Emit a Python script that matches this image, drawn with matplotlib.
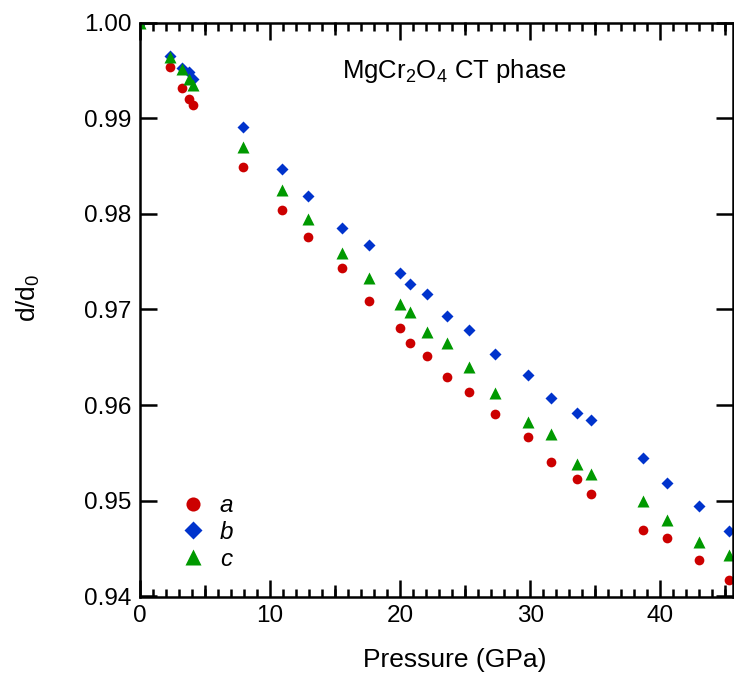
import numpy as np
import matplotlib
matplotlib.use("Agg")
import matplotlib.pyplot as plt
from matplotlib.ticker import MultipleLocator, FixedLocator

plt.rcParams['font.family'] = ['Liberation Sans', 'DejaVu Sans']
plt.rcParams['mathtext.default'] = 'regular'

# pressure (GPa) and normalised lattice parameters
pressure = [0, 2.3, 3.2, 3.8, 4.1, 7.9, 10.9, 12.9, 15.5, 17.6, 20.0, 20.8,
            22.1, 23.6, 25.3, 27.3, 29.8, 31.6, 33.6, 34.7, 38.7, 40.5, 43.0, 45.3]
a_ratio = [1.0, 0.9953, 0.9932, 0.9920, 0.9914, 0.9849, 0.9804, 0.9776, 0.9743,
           0.9709, 0.9681, 0.9665, 0.9651, 0.9629, 0.9614, 0.9591, 0.9567, 0.9541,
           0.9523, 0.9507, 0.9469, 0.9461, 0.9438, 0.9417]
b_ratio = [1.0, 0.9965, 0.9952, 0.9948, 0.9941, 0.9891, 0.9847, 0.9819, 0.9785,
           0.9767, 0.9738, 0.9727, 0.9716, 0.9693, 0.9679, 0.9653, 0.9632, 0.9608,
           0.9592, 0.9584, 0.9545, 0.9519, 0.9495, 0.9468]
c_ratio = [1.0, 0.9964, 0.9951, 0.9941, 0.9935, 0.9870, 0.9825, 0.9795, 0.9759,
           0.9733, 0.9706, 0.9697, 0.9676, 0.9665, 0.9640, 0.9613, 0.9582, 0.9570,
           0.9538, 0.9528, 0.9500, 0.9480, 0.9457, 0.9443]

FS = 17.5

fig = plt.figure(figsize=(7.34, 6.8), dpi=100)
ax = fig.add_axes([140 / 734, 1 - 596.5 / 680, 593 / 734, 574 / 680])

ax.plot(pressure, a_ratio, 'o', color='#cc0000', ms=7, mec='none', label='a')
ax.plot(pressure, b_ratio, 'D', color='#0033cc', ms=6.2, mec='none', label='b')
ax.plot(pressure, c_ratio, '^', color='#009900', ms=8.3, mec='none', label='c')

ax.set_xlim(0, 45.6)
ax.set_ylim(0.94, 1.0)

ax.xaxis.set_major_locator(MultipleLocator(10))
ax.xaxis.set_minor_locator(MultipleLocator(1))
ax.yaxis.set_major_locator(MultipleLocator(0.01))
ax.yaxis.set_major_formatter(matplotlib.ticker.FormatStrFormatter('%.2f'))

ax.tick_params(which='both', direction='in', top=True, right=True, width=1.8,
               labelsize=FS, pad=6)
ax.tick_params(which='major', length=12)
ax.tick_params(which='minor', length=6)
for s in ax.spines.values():
    s.set_linewidth(1.8)

# medium ticks every 5 GPa
for loc in ['bottom', 'top']:
    sec = ax.secondary_xaxis(loc)
    sec.xaxis.set_major_locator(FixedLocator([5, 15, 25, 35, 45]))
    sec.tick_params(direction='in', length=9, width=1.8, labelbottom=False,
                    labeltop=False)
    sec.spines[loc].set_visible(False)

ax.set_xlabel('Pressure (GPa)', fontsize=19)
ax.xaxis.set_label_coords(0.531, -0.09)
ax.set_ylabel('d/d$_0$', fontsize=19)
ax.yaxis.set_label_coords(-0.165, 0.52)

ax.text(0.34, 0.915, 'MgCr$_2$O$_4$ CT phase', transform=ax.transAxes,
        fontsize=18.5, ha='left', va='center')

leg = ax.legend(loc='lower left', bbox_to_anchor=(0.028, 0.007), frameon=False,
                markerscale=1.45, handlelength=1.2, handletextpad=0.5,
                labelspacing=0.15, prop={'size': FS, 'style': 'italic'})

fig.savefig('out.png', dpi=100)
